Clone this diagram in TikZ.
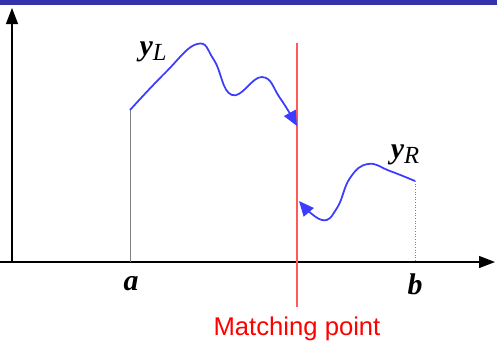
\documentclass[tikz,border=0pt]{standalone}
\usepackage{fontspec}
\setmainfont{Liberation Serif}
\newfontfamily\arialfont{Liberation Sans}
\usepackage{xcolor}
\usetikzlibrary{arrows.meta, positioning}

\definecolor{barblue}{RGB}{51,51,170}
\definecolor{curveblue}{RGB}{60,60,255}
\definecolor{matchred}{RGB}{255,90,90}

\begin{document}
\begin{tikzpicture}[x=0.02cm, y=-0.02cm,
    axis/.style={line width=0.7pt, -{Stealth[length=3.2mm, width=2.4mm, inset=0pt]}},
    curve/.style={curveblue, line width=1pt, -{Stealth[length=3mm, width=2.6mm, inset=0pt]}},
    endline/.style={draw=black!50, line width=0.5pt},
    lbl/.style={font=\fontsize{17}{19}\selectfont\bfseries\itshape, inner sep=1pt},
    match/.style={matchred, line width=1.3pt}
]
\useasboundingbox (0,0) rectangle (497,346);

% --- top bar ---
\fill[barblue] (0,0) rectangle (497,5);

% --- axes ---
\coordinate (O) at (12,262);
\coordinate (ytop) at (12,8);
\coordinate (xend) at (495,262);
\draw[axis] (O) -- (ytop);
\draw[axis] (0,262) -- (xend);

% --- end points ---
\coordinate (A) at (130,110);
\coordinate (Abase) at (130,262);
\coordinate (B) at (415,181);
\coordinate (Bbase) at (415,262);
\draw[endline] (A) -- (Abase);
\draw[endline, densely dotted] (B) -- (Bbase);

% --- matching point line ---
\coordinate (mtop) at (297,43);
\coordinate (mbot) at (297,307);
\draw[match] (mtop) -- (mbot);

% --- left solution ---
\draw[curve] plot[smooth, tension=0.75] coordinates {
  (130,110) (165,73) (197,44) (214,60) (232,95)
  (262,77) (280,98) (297,126)};

% --- right solution ---
\draw[curve] plot[smooth, tension=0.75] coordinates {
  (415,181) (390,171) (368,164) (350,178) (337,208)
  (322,220) (299,201)};

% --- labels ---
\node[lbl] (yL) at (153,52) {y\raisebox{-0.35ex}{\fontsize{14}{16}\selectfont\mdseries L}};
\node[lbl] (yR) at (405,155) {y\raisebox{-0.35ex}{\fontsize{14}{16}\selectfont\mdseries R}};
\node[lbl] (a) at (131,284) {a};
\node[lbl] (b) at (415,284) {b};
\node[font=\arialfont\fontsize{14.6}{17}\selectfont, text=red] (mp) at (297,329) {Matching point};

\end{tikzpicture}
\end{document}
